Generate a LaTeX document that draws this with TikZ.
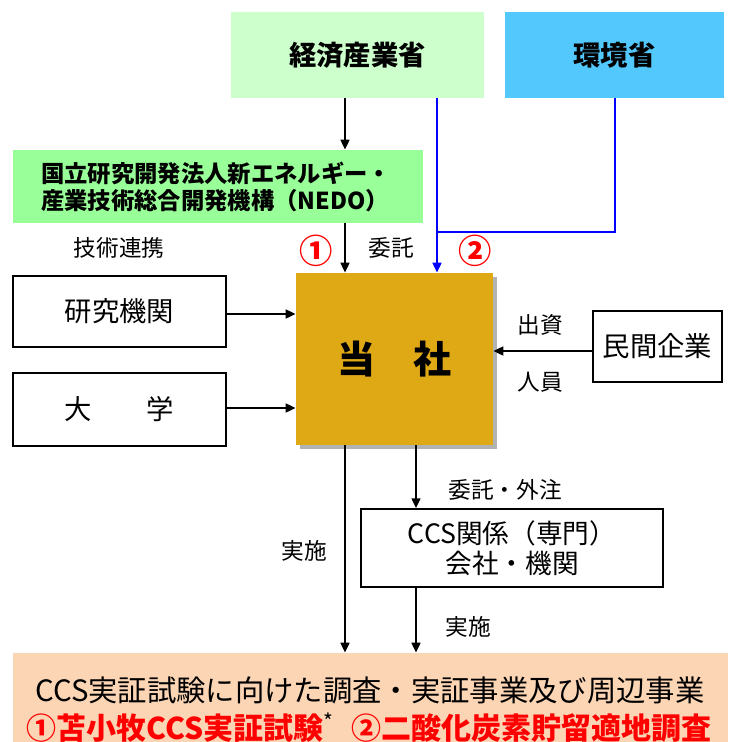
\documentclass[tikz,border=0pt]{standalone}
\usepackage{fontspec}
\setmainfont{Noto Sans CJK JP}
\usetikzlibrary{arrows.meta,fit,shadows}
\definecolor{metig}{HTML}{CCFFCC}
\definecolor{moeb}{HTML}{53C8FC}
\definecolor{nedog}{HTML}{99FF99}
\definecolor{gold}{HTML}{DFA815}
\definecolor{peach}{HTML}{FCD5B5}
\definecolor{blu}{HTML}{0000FF}
\begin{document}
\begin{tikzpicture}[x=0.75pt,y=-0.75pt,
  fillbox/.style={inner sep=0pt, draw=none},
  linebox/.style={inner sep=0pt, draw=black, line width=1.1pt, fill=white},
  arr/.style={line width=1.8pt, -{Triangle[length=7.5pt,width=6.5pt]}},
  barr/.style={line width=1.8pt, blu, -{Triangle[length=7.5pt,width=6.5pt]}},
  lbl/.style={font=\fontsize{17}{20}\selectfont},
  big/.style={font=\fontsize{20.5}{24}\selectfont},
  num/.style={text=red, font=\bfseries\fontsize{25}{28}\selectfont}]
\useasboundingbox (0,0) rectangle (728,742);
% boxes
\node[fillbox, fill=metig, minimum width=189.75pt, minimum height=64.5pt, font=\bfseries\fontsize{20.5}{24}\selectfont] (meti) at (357.5,55) {経済産業省};
\node[fillbox, fill=moeb, minimum width=164.25pt, minimum height=64.5pt, font=\bfseries\fontsize{20.5}{24}\selectfont] (moe) at (614.5,55) {環境省};
\node[fillbox, fill=nedog, fit={(13,150) (423,223)}] (nedo) {};
\node[align=left, font=\bfseries\fontsize{17.5}{20.5}\selectfont] (nedot) at (216,187) {国立研究開発法人新エネルギー・\\産業技術総合開発機構（NEDO）};
\node[fillbox, fill=gold, minimum width=147.75pt, minimum height=129pt, drop shadow={shadow xshift=3pt, shadow yshift=-3pt, opacity=0.3, fill=black}, font=\bfseries\fontsize{28.5}{32}\selectfont] (tosha) at (394.5,359) {当　社};
\node[linebox, big, minimum width=159.75pt, minimum height=53.25pt] (kenkyu) at (119.5,311.5) {研究機関};
\node[linebox, big, minimum width=159.75pt, minimum height=54.75pt] (daigaku) at (119.5,409.5) {大　　学};
\node[linebox, big, minimum width=96.75pt, minimum height=53.25pt] (minkan) at (657.5,346.5) {民間企業};
\node[linebox, minimum width=226.5pt, minimum height=58.5pt, align=center, font=\fontsize{20}{22.5}\selectfont] (ccs) at (512,548) {CCS関係（専門）\\会社・機関};
\node[fillbox, fill=peach, fit={(13,653) (728,742)}] (bottom) {};
\node[font=\fontsize{22}{26}\selectfont] (b1) at (370,690) {CCS実証試験に向けた調査・実証事業及び周辺事業};
\node[font=\bfseries\fontsize{22.5}{26}\selectfont] (b2) at (369,728) {\textcolor{red}{①苫小牧CCS実証試験}\textsuperscript{\mdseries *}\hspace{0.6em}\textcolor{red}{②二酸化炭素貯留適地調査}};
% labels
\node[lbl] (l1) at (119,248) {技術連携};
\node[lbl] (l2) at (391,248) {委託};
\node[num] (c1) at (316,251) {①};
\node[num] (c2) at (475,251) {②};
\node[lbl] (l3) at (540,325) {出資};
\node[lbl] (l4) at (540,382) {人員};
\node[lbl] (l5) at (505,490) {委託・外注};
\node[lbl] (l6) at (304,551) {実施};
\node[lbl] (l7) at (468,627) {実施};
% guide coordinates
\coordinate (xa) at (345,0);
\coordinate (xb) at (437,0);
\coordinate (xc) at (615,0);
\coordinate (xd) at (416,0);
\coordinate (yj) at (0,232);
\coordinate (y1) at (0,314);
\coordinate (y2) at (0,408);
\coordinate (y3) at (0,351);
% connectors
\draw[arr] (xa |- meti.south) -- (xa |- nedo.north);
\draw[arr] (xa |- nedo.south) -- (xa |- tosha.north);
\draw[barr] (xb |- meti.south) -- (xb |- tosha.north);
\draw[line width=1.8pt, blu] (xc |- moe.south) -- (xc |- yj) -- (xb |- yj);
\draw[arr] (kenkyu.east |- y1) -- (tosha.west |- y1);
\draw[arr] (daigaku.east |- y2) -- (tosha.west |- y2);
\draw[arr] (minkan.west |- y3) -- (tosha.east |- y3);
\draw[arr] (xa |- tosha.south) -- (xa |- bottom.north);
\draw[arr] (xd |- tosha.south) -- (xd |- ccs.north);
\draw[arr] (xd |- ccs.south) -- (xd |- bottom.north);
\end{tikzpicture}
\end{document}
